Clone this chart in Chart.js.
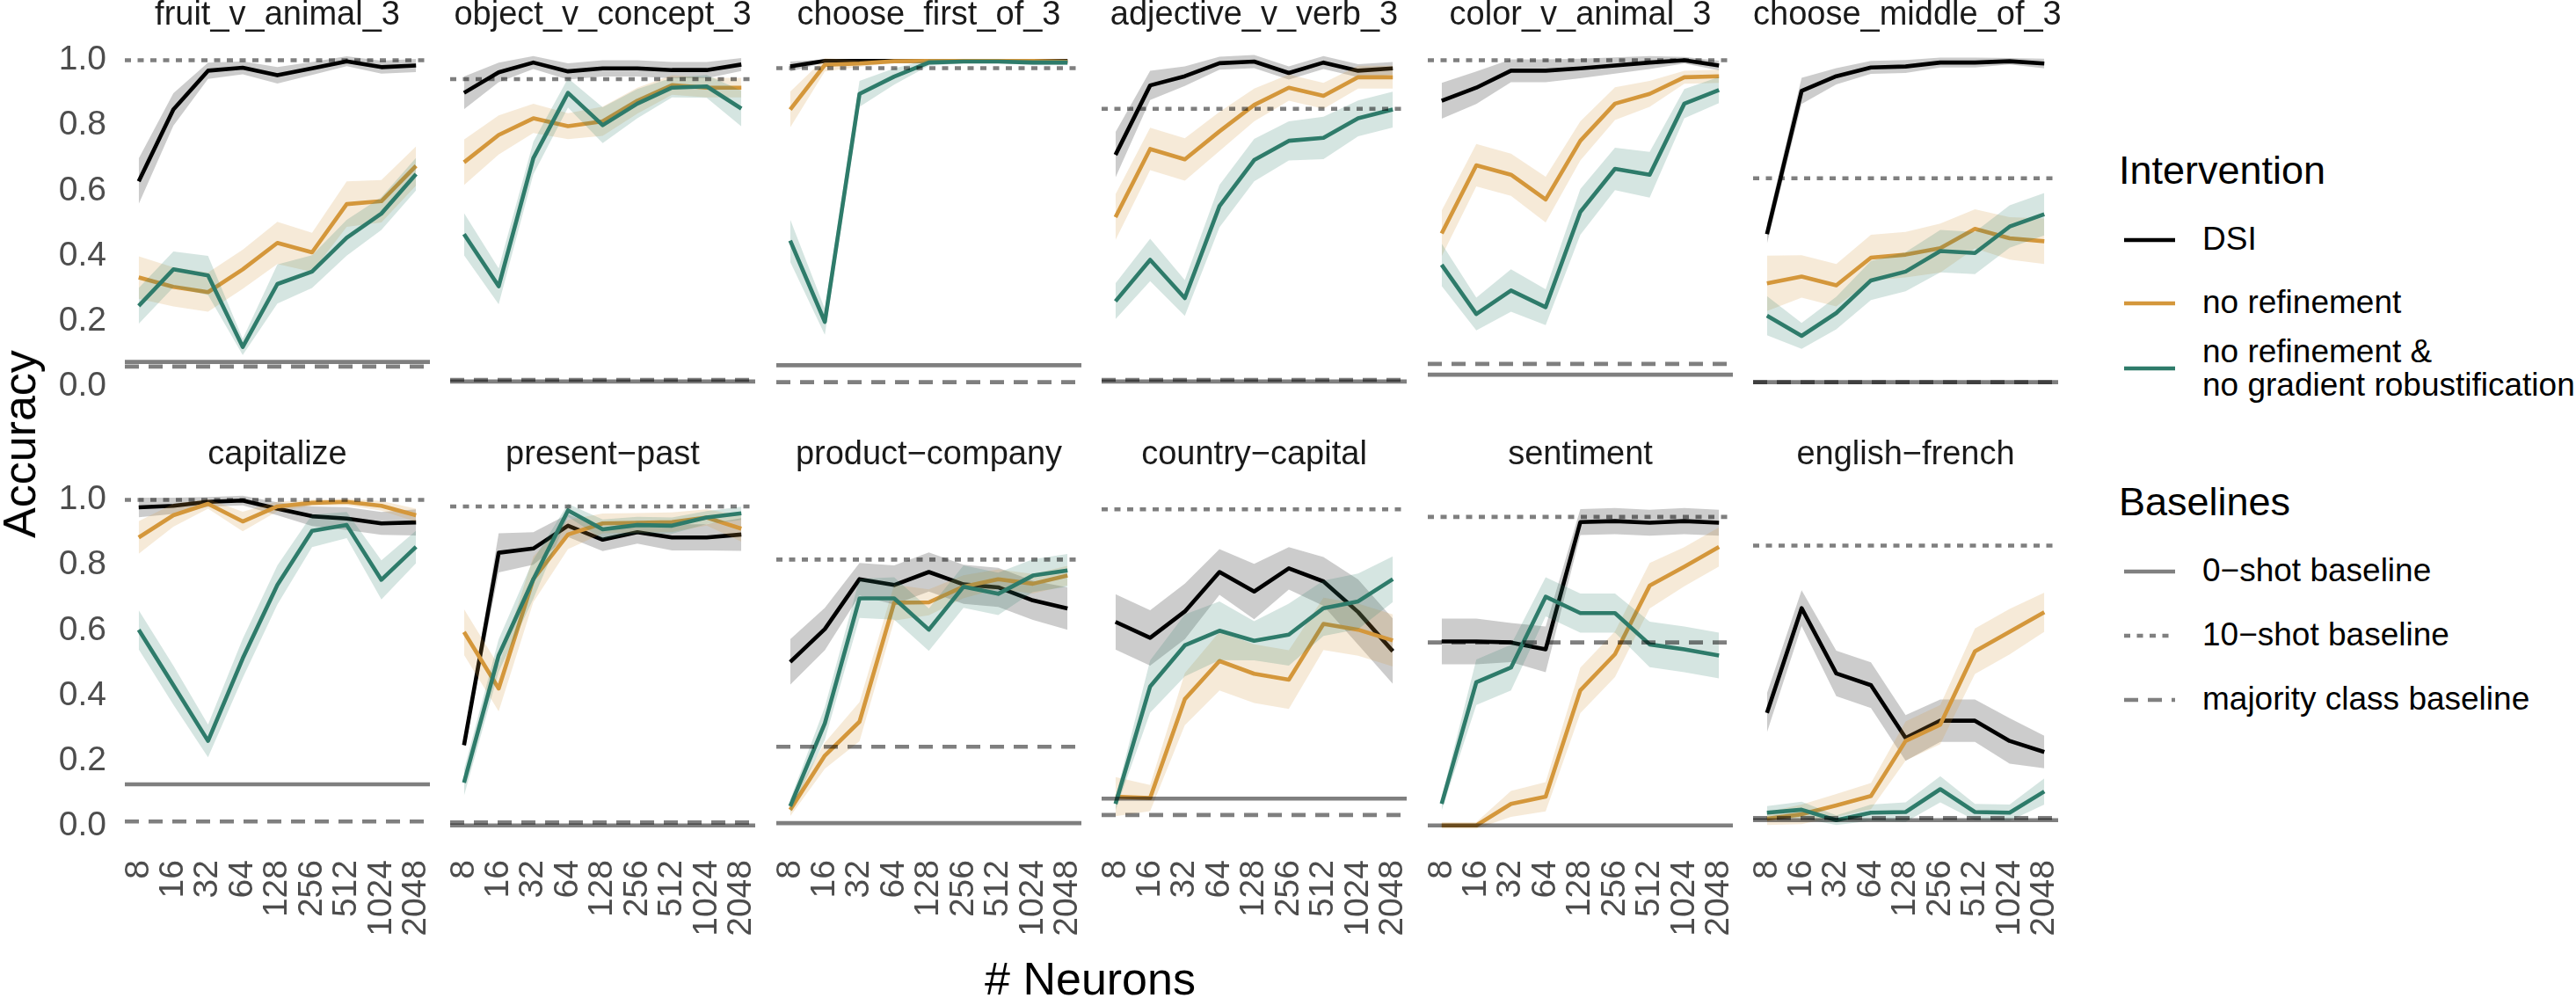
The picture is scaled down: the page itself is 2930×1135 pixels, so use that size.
<!DOCTYPE html>
<html>
<head>
<meta charset="utf-8">
<script src="https://cdn.jsdelivr.net/npm/chart.js@4.4.1/dist/chart.umd.min.js"></script>
<style>
  body { margin: 0; background: #fff; width: 2930px; height: 1135px; overflow: hidden; position: relative;
         font-family: "Liberation Sans", Arial, sans-serif; }
  canvas { position: absolute; }
  .strip { position: absolute; font-size: 38px; line-height: 38px; color: #1a1a1a; text-align: center; white-space: nowrap; }
  .axtitle { position: absolute; font-size: 52px; line-height: 52px; color: #000; white-space: nowrap; }
  .lgtitle { position: absolute; font-size: 45px; line-height: 45px; color: #000; white-space: nowrap; }
  .lgtext { position: absolute; font-size: 37px; line-height: 38px; color: #000; white-space: nowrap; }
  .lgkey { position: absolute; }
</style>
</head>
<body>
<script>
// ---------------- data ----------------
const neurons = [8, 16, 32, 64, 128, 256, 512, 1024, 2048];
const tasks = ["fruit_v_animal_3", "object_v_concept_3", "choose_first_of_3", "adjective_v_verb_3",
               "color_v_animal_3", "choose_middle_of_3", "capitalize", "present\u2212past",
               "product\u2212company", "country\u2212capital", "sentiment", "english\u2212french"];
const yTicks = [0, 0.2, 0.4, 0.6, 0.8, 1.0];

// DSI
const dsiMean = [
  [0.629, 0.849, 0.968, 0.977, 0.954, 0.975, 0.997, 0.979, 0.984],
  [0.900, 0.963, 0.993, 0.966, 0.975, 0.975, 0.970, 0.970, 0.987],
  [0.981, 0.998, 0.998, 0.998, 0.998, 0.998, 0.998, 0.998, 0.998],
  [0.710, 0.923, 0.951, 0.991, 0.996, 0.961, 0.993, 0.968, 0.975],
  [0.876, 0.916, 0.968, 0.968, 0.975, 0.984, 0.993, 1.000, 0.984],
  [0.467, 0.906, 0.951, 0.978, 0.981, 0.993, 0.993, 0.997, 0.990],
  [0.977, 0.982, 0.994, 0.998, 0.973, 0.950, 0.943, 0.928, 0.931],
  [0.248, 0.838, 0.851, 0.921, 0.878, 0.901, 0.885, 0.885, 0.894],
  [0.503, 0.604, 0.757, 0.739, 0.779, 0.741, 0.732, 0.692, 0.667],
  [0.626, 0.577, 0.658, 0.779, 0.719, 0.790, 0.750, 0.656, 0.536],
  [0.566, 0.566, 0.563, 0.542, 0.932, 0.935, 0.930, 0.935, 0.930],
  [0.347, 0.668, 0.468, 0.432, 0.270, 0.323, 0.323, 0.261, 0.227]
];
const dsiBand = [
  [0.07, 0.05, 0.025, 0.02, 0.025, 0.02, 0.015, 0.02, 0.02],
  [0.05, 0.03, 0.02, 0.025, 0.025, 0.025, 0.025, 0.025, 0.02],
  [0.015, 0.005, 0.005, 0.005, 0.005, 0.005, 0.005, 0.005, 0.005],
  [0.07, 0.045, 0.03, 0.02, 0.02, 0.02, 0.02, 0.02, 0.02],
  [0.055, 0.05, 0.035, 0.035, 0.03, 0.025, 0.02, 0.01, 0.015],
  [0.03, 0.04, 0.025, 0.02, 0.02, 0.015, 0.015, 0.01, 0.015],
  [0.03, 0.025, 0.015, 0.015, 0.02, 0.03, 0.035, 0.035, 0.04],
  [0.01, 0.06, 0.05, 0.035, 0.035, 0.035, 0.04, 0.04, 0.05],
  [0.07, 0.065, 0.05, 0.06, 0.06, 0.06, 0.06, 0.06, 0.065],
  [0.085, 0.085, 0.085, 0.07, 0.085, 0.065, 0.075, 0.1, 0.1],
  [0.07, 0.07, 0.06, 0.07, 0.04, 0.04, 0.04, 0.04, 0.04],
  [0.06, 0.055, 0.07, 0.07, 0.07, 0.065, 0.065, 0.07, 0.05]
];

// no refinement
const noRefMean = [
  [0.334, 0.305, 0.289, 0.359, 0.440, 0.411, 0.559, 0.568, 0.676],
  [0.687, 0.771, 0.822, 0.798, 0.813, 0.876, 0.924, 0.916, 0.916],
  [0.849, 0.986, 0.990, 0.997, 0.998, 0.998, 0.998, 0.998, 0.996],
  [0.519, 0.728, 0.696, 0.782, 0.863, 0.916, 0.891, 0.948, 0.948],
  [0.469, 0.678, 0.649, 0.573, 0.753, 0.867, 0.897, 0.948, 0.951],
  [0.316, 0.337, 0.310, 0.395, 0.404, 0.424, 0.483, 0.454, 0.445],
  [0.885, 0.953, 0.988, 0.934, 0.980, 0.991, 0.994, 0.982, 0.953],
  [0.595, 0.422, 0.757, 0.894, 0.928, 0.930, 0.932, 0.946, 0.912],
  [0.050, 0.216, 0.320, 0.685, 0.686, 0.734, 0.757, 0.743, 0.768],
  [0.090, 0.086, 0.389, 0.506, 0.467, 0.449, 0.620, 0.602, 0.569],
  [0.002, 0.002, 0.068, 0.090, 0.416, 0.527, 0.737, 0.795, 0.856],
  [0.023, 0.036, 0.063, 0.092, 0.261, 0.311, 0.536, 0.596, 0.656]
];
const noRefBand = [
  [0.065, 0.06, 0.06, 0.06, 0.065, 0.06, 0.07, 0.065, 0.06],
  [0.07, 0.06, 0.045, 0.04, 0.045, 0.04, 0.03, 0.03, 0.03],
  [0.055, 0.02, 0.01, 0.005, 0.005, 0.005, 0.005, 0.005, 0.005],
  [0.07, 0.065, 0.065, 0.06, 0.05, 0.04, 0.04, 0.035, 0.035],
  [0.07, 0.065, 0.065, 0.07, 0.06, 0.05, 0.04, 0.02, 0.02],
  [0.085, 0.065, 0.065, 0.07, 0.07, 0.075, 0.06, 0.065, 0.07],
  [0.05, 0.035, 0.015, 0.03, 0.015, 0.01, 0.01, 0.015, 0.02],
  [0.07, 0.07, 0.07, 0.045, 0.03, 0.03, 0.03, 0.025, 0.04],
  [0.02, 0.04, 0.06, 0.055, 0.04, 0.035, 0.03, 0.03, 0.03],
  [0.06, 0.04, 0.08, 0.09, 0.09, 0.09, 0.08, 0.08, 0.08],
  [0.01, 0.01, 0.04, 0.045, 0.07, 0.07, 0.07, 0.06, 0.06],
  [0.02, 0.03, 0.035, 0.04, 0.06, 0.06, 0.07, 0.07, 0.06]
];

// no refinement & no gradient robustification
const noGradMean = [
  [0.247, 0.359, 0.340, 0.121, 0.314, 0.352, 0.456, 0.530, 0.651],
  [0.467, 0.307, 0.700, 0.900, 0.801, 0.867, 0.916, 0.920, 0.852],
  [0.447, 0.198, 0.897, 0.950, 0.993, 0.996, 0.996, 0.993, 0.993],
  [0.261, 0.388, 0.271, 0.553, 0.694, 0.753, 0.762, 0.822, 0.849],
  [0.373, 0.222, 0.294, 0.243, 0.535, 0.667, 0.649, 0.867, 0.909],
  [0.217, 0.155, 0.225, 0.325, 0.352, 0.415, 0.409, 0.490, 0.528],
  [0.602, 0.432, 0.261, 0.514, 0.739, 0.905, 0.923, 0.755, 0.856],
  [0.133, 0.523, 0.757, 0.968, 0.910, 0.923, 0.921, 0.946, 0.959],
  [0.061, 0.315, 0.698, 0.698, 0.602, 0.734, 0.712, 0.768, 0.784],
  [0.068, 0.428, 0.554, 0.599, 0.568, 0.587, 0.668, 0.689, 0.757],
  [0.068, 0.441, 0.486, 0.703, 0.653, 0.653, 0.557, 0.542, 0.523],
  [0.041, 0.050, 0.018, 0.041, 0.043, 0.113, 0.043, 0.041, 0.106]
];
const noGradBand = [
  [0.055, 0.055, 0.06, 0.025, 0.06, 0.05, 0.055, 0.05, 0.05],
  [0.065, 0.055, 0.05, 0.045, 0.055, 0.045, 0.03, 0.035, 0.055],
  [0.065, 0.04, 0.04, 0.025, 0.01, 0.005, 0.005, 0.008, 0.008],
  [0.055, 0.065, 0.055, 0.065, 0.065, 0.06, 0.065, 0.055, 0.055],
  [0.065, 0.05, 0.065, 0.055, 0.07, 0.065, 0.07, 0.045, 0.04],
  [0.06, 0.04, 0.05, 0.06, 0.06, 0.065, 0.065, 0.065, 0.065],
  [0.06, 0.06, 0.05, 0.06, 0.06, 0.05, 0.04, 0.06, 0.05],
  [0.04, 0.05, 0.06, 0.02, 0.03, 0.025, 0.025, 0.02, 0.02],
  [0.02, 0.05, 0.06, 0.065, 0.065, 0.065, 0.065, 0.05, 0.05],
  [0.02, 0.08, 0.095, 0.09, 0.06, 0.095, 0.085, 0.085, 0.07],
  [0.02, 0.07, 0.07, 0.06, 0.06, 0.06, 0.07, 0.07, 0.07],
  [0.02, 0.025, 0.015, 0.025, 0.03, 0.04, 0.025, 0.025, 0.04]
];

// baselines per task
const zeroShot = [0.075, 0.015, 0.065, 0.015, 0.036, 0.013, 0.128, 0.002, 0.009, 0.084, 0.002, 0.018];
const tenShot  = [1.000, 0.942, 0.976, 0.851, 1.000, 0.638, 1.000, 0.980, 0.817, 0.971, 0.948, 0.860];
const majority = [0.061, 0.020, 0.013, 0.020, 0.069, 0.013, 0.014, 0.011, 0.243, 0.034, 0.563, 0.025];

// ---------------- styling ----------------
const COL_DSI = "#000000", COL_NR = "#D4973B", COL_NG = "#2E7B6A";
const FILL_DSI = "rgba(0,0,0,0.2)", FILL_NR = "rgba(212,151,59,0.2)", FILL_NG = "rgba(46,123,106,0.2)";
const BASE_COL = "rgba(0,0,0,0.5)";
const DOT = [7, 7.5], DASH = [16, 11];
const LW = 4.6;

const PX0 = 141.5, PITCH = 370.5, PW = 347;
const ROW_TOP = [50, 550], PH = 408;
const M = 30, AXW = 100, AXH = 140;

Chart.defaults.font.family = '"Liberation Sans", Arial, sans-serif';

const pts = arr => arr.map((v, i) => ({ x: i, y: v }));

function baseLine(v, dash) {
  return {
    data: [{ x: -0.4, y: v }, { x: neurons.length - 0.6, y: v }],
    borderColor: BASE_COL, borderWidth: LW, borderDash: dash, borderCapStyle: "butt",
    pointRadius: 0, fill: false, order: 0
  };
}

// ---------------- panels ----------------
tasks.forEach((name, k) => {
  const r = Math.floor(k / 6), c = k % 6;
  const showX = r === 1, showY = c === 0;
  const plotL = Math.round(PX0 + c * PITCH), plotT = ROW_TOP[r];
  const left = plotL - M - (showY ? AXW : 0);
  const top = plotT - M;
  const w = PW + 2 * M + (showY ? AXW : 0);
  const h = PH + 2 * M + (showX ? AXH : 0);

  const cv = document.createElement("canvas");
  cv.width = w; cv.height = h;
  cv.style.left = left + "px"; cv.style.top = top + "px";
  cv.style.width = w + "px"; cv.style.height = h + "px";
  document.body.appendChild(cv);

  const ds = [];
  ds.push(baseLine(zeroShot[k], []));
  ds.push(baseLine(tenShot[k], DOT));
  ds.push(baseLine(majority[k], DASH));

  // series: line, lower, upper(fill to lower); order: lower numbers drawn on top
  const series = [
    [noGradMean[k], noGradBand[k], COL_NG, FILL_NG, 1],
    [noRefMean[k], noRefBand[k], COL_NR, FILL_NR, 4],
    [dsiMean[k], dsiBand[k], COL_DSI, FILL_DSI, 7]
  ];
  series.forEach(([mean, band, col, fillCol, ord]) => {
    ds.push({
      data: pts(mean), borderColor: col, borderWidth: LW, borderJoinStyle: "round",
      pointRadius: 0, fill: false, tension: 0, order: ord
    });
    const lowIdx = ds.length;
    ds.push({
      data: pts(mean.map((m, i) => m - band[i])), borderColor: "transparent", borderWidth: 1,
      pointRadius: 0, fill: false, tension: 0, order: ord + 2
    });
    ds.push({
      data: pts(mean.map((m, i) => m + band[i])), borderColor: "transparent", borderWidth: 1,
      pointRadius: 0, fill: { target: lowIdx }, backgroundColor: fillCol, tension: 0, order: ord + 1
    });
  });

  new Chart(cv, {
    type: "line",
    data: { datasets: ds },
    options: {
      responsive: false, animation: false, devicePixelRatio: 1,
      layout: { padding: { left: M, right: M, top: M, bottom: M } },
      plugins: { legend: { display: false }, tooltip: { enabled: false } },
      scales: {
        x: {
          type: "linear", min: -0.4, max: neurons.length - 0.6,
          display: showX,
          grid: { display: false, drawTicks: false }, border: { display: false },
          afterBuildTicks: s => { s.ticks = neurons.map((n, i) => ({ value: i })); },
          afterFit: s => {
            s.height = showX ? AXH : 0;
            s.paddingLeft = 0; s.paddingRight = 0;
          },
          ticks: {
            autoSkip: false, minRotation: 90, maxRotation: 90, padding: 20,
            color: "#4d4d4d", font: { size: 39 },
            callback: v => String(neurons[v])
          }
        },
        y: {
          type: "linear", min: -0.05, max: 1.05,
          display: showY,
          grid: { display: false, drawTicks: false }, border: { display: false },
          afterBuildTicks: s => { s.ticks = yTicks.map(v => ({ value: v })); },
          afterFit: s => {
            s.width = showY ? AXW : 0;
            s.paddingTop = 0; s.paddingBottom = 0;
          },
          ticks: { padding: 21, color: "#4d4d4d", font: { size: 39 }, callback: v => v.toFixed(1) }
        }
      }
    }
  });

  const st = document.createElement("div");
  st.className = "strip";
  st.textContent = name;
  st.style.left = plotL + "px";
  st.style.width = PW + "px";
  st.style.top = (r === 0 ? -4 : 496) + "px";
  document.body.appendChild(st);
});

// ---------------- axis titles ----------------
const xt = document.createElement("div");
xt.className = "axtitle";
xt.textContent = "# Neurons";
xt.style.left = "1240px"; xt.style.top = "1087px"; xt.style.transform = "translateX(-50%)";
document.body.appendChild(xt);

const yt = document.createElement("div");
yt.className = "axtitle";
yt.textContent = "Accuracy";
yt.style.left = "22px"; yt.style.top = "505px";
yt.style.transform = "translate(-50%, -50%) rotate(-90deg)";
document.body.appendChild(yt);

// ---------------- legend ----------------
function addText(cls, txt, x, y) {
  const d = document.createElement("div");
  d.className = cls; d.innerHTML = txt;
  d.style.left = x + "px"; d.style.top = y + "px";
  document.body.appendChild(d);
}
function addKey(y, col, dash) {
  const ns = "http://www.w3.org/2000/svg";
  const svg = document.createElementNS(ns, "svg");
  svg.setAttribute("width", "58"); svg.setAttribute("height", "10");
  svg.setAttribute("class", "lgkey");
  svg.style.left = "2416px"; svg.style.top = (y - 5) + "px";
  const ln = document.createElementNS(ns, "line");
  ln.setAttribute("x1", "0"); ln.setAttribute("x2", "58");
  ln.setAttribute("y1", "5"); ln.setAttribute("y2", "5");
  ln.setAttribute("stroke", col); ln.setAttribute("stroke-width", LW);
  if (dash.length) ln.setAttribute("stroke-dasharray", dash.join(" "));
  svg.appendChild(ln);
  document.body.appendChild(svg);
}

addText("lgtitle", "Intervention", 2410, 171);
addKey(273, COL_DSI, []);
addText("lgtext", "DSI", 2505, 253);
addKey(345, COL_NR, []);
addText("lgtext", "no refinement", 2505, 325);
addKey(419, COL_NG, []);
addText("lgtext", "no refinement &amp;<br>no gradient robustification", 2505, 381);

addText("lgtitle", "Baselines", 2410, 548);
addKey(650, "#808080", []);
addText("lgtext", "0\u2212shot baseline", 2505, 630);
addKey(723, "#808080", DOT);
addText("lgtext", "10\u2212shot baseline", 2505, 703);
addKey(796, "#808080", DASH);
addText("lgtext", "majority class baseline", 2505, 776);
</script>
</body>
</html>
